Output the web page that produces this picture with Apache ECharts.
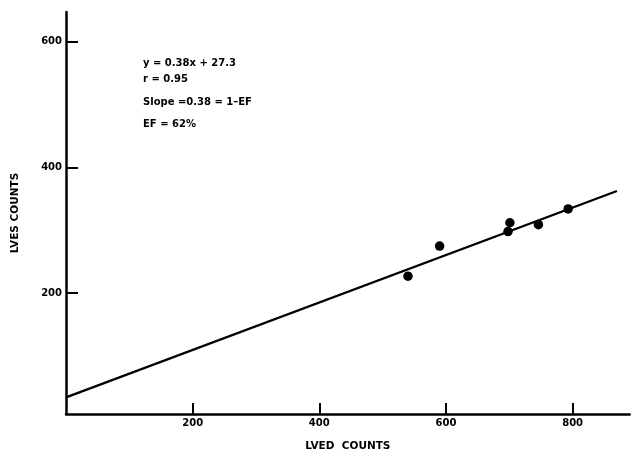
<!DOCTYPE html>
<html>
<head>
<meta charset="utf-8">
<script src="https://cdn.jsdelivr.net/npm/echarts@6/dist/echarts.min.js"></script>
<style>
html,body{margin:0;padding:0;background:#fff;}
#chart{width:631px;height:457px;}
</style>
</head>
<body>
<div id="chart"></div>
<script>
// Data
const lvedCounts = [540, 590, 698, 701, 746, 793];
const lvesCounts = [227, 275, 298, 312, 309, 334];
const fitLineX = [0, 870];
const fitLineY = [34.5, 362.4];
const xTickValues = [200, 400, 600, 800];
const yTickValues = [200, 400, 600];
const annotationLines = ['y = 0.38x + 27.3', 'r = 0.95', 'Slope =0.38 = 1\u2013EF', 'EF = 62%'];
const xAxisName = 'LVED  COUNTS';
const yAxisName = 'LVES COUNTS';

const FONT = '"DejaVu Sans", Arial, sans-serif';
const chart = echarts.init(document.getElementById('chart'), null, {renderer: 'canvas'});

const scatterData = lvedCounts.map((x, i) => [x, lvesCounts[i]]);
const fitData = fitLineX.map((x, i) => [x, fitLineY[i]]);
const annoY = [64.7, 80.5, 103, 125.5];

const option = {
  backgroundColor: '#ffffff',
  animation: false,
  grid: {left: 66, right: 1.4, top: 12, bottom: 38.5, containLabel: false},
  xAxis: {
    type: 'value', min: 0, max: 890,
    name: xAxisName, nameLocation: 'middle', nameGap: 27,
    nameTextStyle: {fontFamily: FONT, fontWeight: 'bold', fontSize: 10.5, color: '#000'},
    axisLine: {show: true, onZero: false, lineStyle: {color: '#000', width: 2.5}},
    axisTick: {show: true, inside: true, length: 11, customValues: xTickValues, lineStyle: {color: '#000', width: 2}},
    axisLabel: {show: true, margin: 4, customValues: xTickValues, fontFamily: FONT, fontWeight: 'bold', fontSize: 10, color: '#000'},
    splitLine: {show: false}
  },
  yAxis: {
    type: 'value', min: 8, max: 647,
    name: yAxisName, nameLocation: 'middle', nameGap: 45, nameRotate: 90,
    nameTextStyle: {fontFamily: FONT, fontWeight: 'bold', fontSize: 10.5, color: '#000'},
    axisLine: {show: true, onZero: false, lineStyle: {color: '#000', width: 2.5}},
    axisTick: {show: true, inside: true, length: 12, customValues: yTickValues, lineStyle: {color: '#000', width: 2}},
    axisLabel: {show: true, margin: 4, customValues: yTickValues, fontFamily: FONT, fontWeight: 'bold', fontSize: 10, color: '#000'},
    splitLine: {show: false}
  },
  graphic: annotationLines.map((t, i) => ({
    type: 'text', left: 143, top: annoY[i] - 6,
    style: {text: t, fill: '#000', font: 'bold 10px ' + FONT}
  })),
  series: [
    {
      type: 'line', data: fitData, symbol: 'none', silent: true,
      lineStyle: {color: '#000', width: 2.3}
    },
    {
      type: 'scatter', data: scatterData, symbol: 'circle', symbolSize: 9.5,
      itemStyle: {color: '#000', opacity: 1}
    }
  ]
};
chart.setOption(option);
</script>
</body>
</html>
